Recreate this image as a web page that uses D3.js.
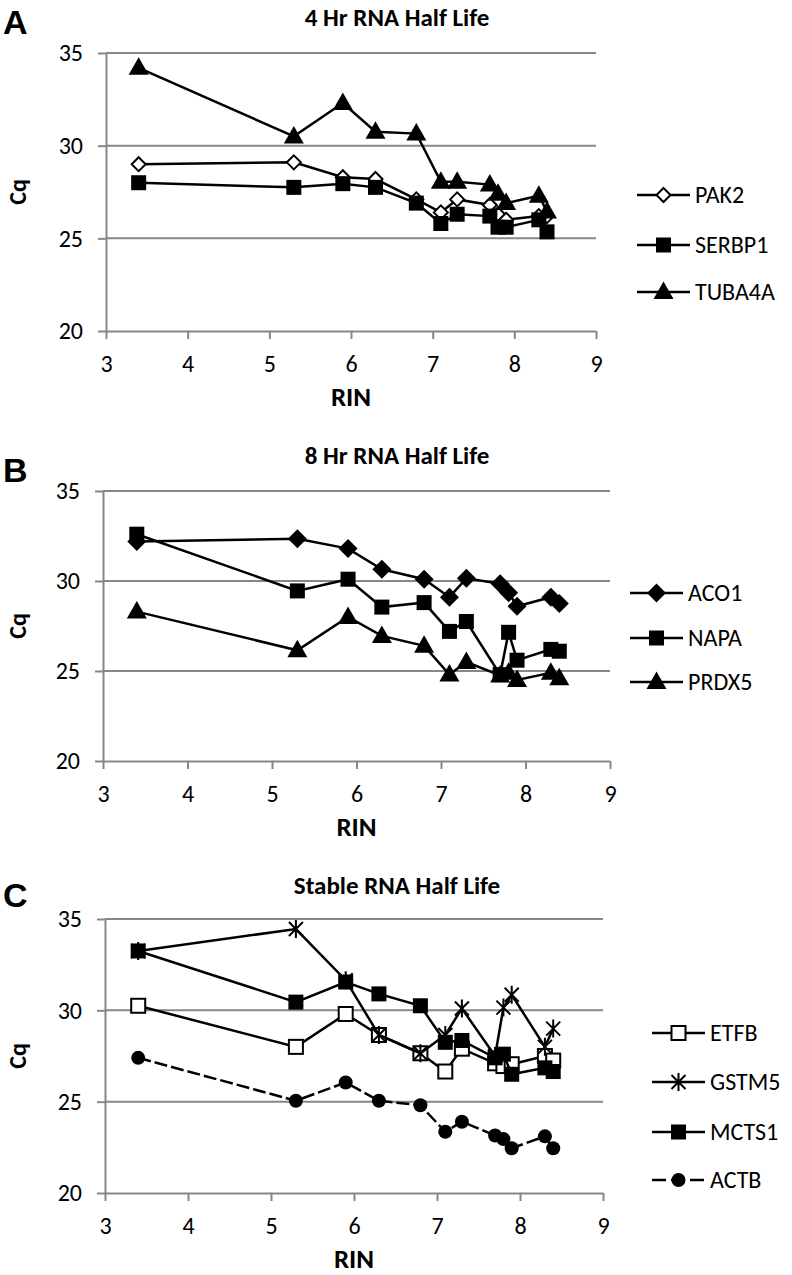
<!DOCTYPE html>
<html><head><meta charset="utf-8">
<script src="https://cdn.jsdelivr.net/npm/d3@7"></script>
<style>
body{margin:0;background:#fff;}
svg text{font-family:Carlito,Lato,"Open Sans",sans-serif;fill:#000;}
</style></head>
<body><svg id="c" width="792" height="1275"></svg>
<script>
const rin = [3.4, 5.3, 5.9, 6.3, 6.8, 7.1, 7.3, 7.7, 7.8, 7.9, 8.3, 8.4];
const xTicks = [3, 4, 5, 6, 7, 8, 9];
const yTicks = [20, 25, 30, 35];

// Panel A: 4 Hr RNA Half Life
const PAK2   = [29.0, 29.1, 28.3, 28.2, 27.1, 26.4, 27.1, 26.8, 26.3, 26.0, 26.2, 26.2];
const SERBP1 = [28.0, 27.75, 27.95, 27.75, 26.9, 25.8, 26.3, 26.2, 25.6, 25.6, 26.0, 25.35];
const TUBA4A = [34.2, 30.5, 32.3, 30.75, 30.65, 28.05, 28.05, 27.9, 27.4, 26.9, 27.3, 26.45];
// Panel B: 8 Hr RNA Half Life
const ACO1  = [32.2, 32.35, 31.8, 30.65, 30.1, 29.1, 30.15, 29.85, 29.35, 28.6, 29.1, 28.75];
const NAPA  = [32.6, 29.45, 30.1, 28.55, 28.8, 27.2, 27.75, 24.8, 27.15, 25.6, 26.2, 26.1];
const PRDX5 = [28.3, 26.15, 28.0, 26.95, 26.4, 24.8, 25.5, 24.75, 24.9, 24.5, 24.9, 24.6];
// Panel C: Stable RNA Half Life
const ETFB  = [30.25, 28.0, 29.8, 28.65, 27.65, 26.65, 27.9, 27.1, 26.95, 27.05, 27.5, 27.25];
const GSTM5 = [33.25, 34.45, 31.65, 28.65, 27.65, 28.65, 30.1, 27.5, 30.15, 30.85, 28.0, 29.0];
const MCTS1 = [33.25, 30.45, 31.55, 30.9, 30.25, 28.25, 28.35, 27.4, 27.6, 26.5, 26.85, 26.65];
const ACTB  = [27.4, 25.05, 26.05, 25.05, 24.8, 23.35, 23.9, 23.15, 22.95, 22.45, 23.1, 22.45];

const panels = [
  {letter:"A", title:"4 Hr RNA Half Life", x0:106, x1:596, yTop:53, yBot:331,
   letterY:34, titleY:26, legX:637, legY:[195,245,292],
   series:[{name:"PAK2", v:PAK2, m:"diamondOpen"},{name:"SERBP1", v:SERBP1, m:"square"},{name:"TUBA4A", v:TUBA4A, m:"triangle"}]},
  {letter:"B", title:"8 Hr RNA Half Life", x0:103, x1:610, yTop:491, yBot:761,
   letterY:482, titleY:464, legX:630, legY:[593,638,682],
   series:[{name:"ACO1", v:ACO1, m:"diamond"},{name:"NAPA", v:NAPA, m:"square"},{name:"PRDX5", v:PRDX5, m:"triangle"}]},
  {letter:"C", title:"Stable RNA Half Life", x0:105, x1:603, yTop:919, yBot:1193,
   letterY:907, titleY:894, legX:652, legY:[1033,1082,1132,1180],
   series:[{name:"ETFB", v:ETFB, m:"squareOpen"},{name:"GSTM5", v:GSTM5, m:"asterisk"},{name:"MCTS1", v:MCTS1, m:"square"},{name:"ACTB", v:ACTB, m:"circle", dash:"13,4"}]}
];

const svg = d3.select("#c");
const GRID = "#878787";

function marker(g, type, cx, cy) {
  const s = g.append("g").attr("transform", `translate(${cx},${cy})`);
  if (type === "square") s.append("rect").attr("x",-7.5).attr("y",-7.5).attr("width",15).attr("height",15).attr("fill","#000");
  else if (type === "squareOpen") s.append("rect").attr("x",-7).attr("y",-7).attr("width",14).attr("height",14).attr("fill","#fff").attr("stroke","#000").attr("stroke-width",2);
  else if (type === "triangle") s.append("path").attr("d","M0,-10.5L10,7L-10,7Z").attr("fill","#000");
  else if (type === "diamond") s.append("path").attr("d","M0,-9.5L9.5,0L0,9.5L-9.5,0Z").attr("fill","#000");
  else if (type === "diamondOpen") s.append("path").attr("d","M0,-7L7,0L0,7L-7,0Z").attr("fill","#fff").attr("stroke","#000").attr("stroke-width",2);
  else if (type === "circle") s.append("circle").attr("r",7).attr("fill","#000");
  else if (type === "asterisk") s.append("path").attr("d","M-7,-7L7,7M-7,7L7,-7M0,-9L0,9").attr("stroke","#000").attr("stroke-width",2).attr("fill","none");
}

panels.forEach(p => {
  const x = d3.scaleLinear().domain([3, 9]).range([p.x0, p.x1]);
  const y = d3.scaleLinear().domain([20, 35]).range([p.yBot, p.yTop]);
  const g = svg.append("g");

  g.append("text").attr("x", 3).attr("y", p.letterY).text(p.letter)
    .style("font-family","'Liberation Sans',Arial,sans-serif").style("font-weight","bold").style("font-size","34px");
  g.append("text").attr("x", 397).attr("y", p.titleY).attr("text-anchor","middle").text(p.title)
    .style("font-weight","bold").style("font-size","25px");

  // gridlines
  g.selectAll("line.grid").data(yTicks.filter(t => t > 20)).enter().append("line")
    .attr("x1", p.x0).attr("x2", p.x1).attr("y1", d => y(d)).attr("y2", d => y(d))
    .attr("stroke", GRID).attr("stroke-width", 2);

  const ay = g.append("g").attr("transform", `translate(${p.x0},0)`)
    .call(d3.axisLeft(y).tickValues(yTicks).tickFormat(d3.format("d")).tickSize(8).tickPadding(15).tickSizeOuter(0));
  const ax = g.append("g").attr("transform", `translate(0,${p.yBot})`)
    .call(d3.axisBottom(x).tickValues(xTicks).tickFormat(d3.format("d")).tickSize(8).tickPadding(16).tickSizeOuter(0));
  [ay, ax].forEach(a => {
    a.select(".domain").attr("stroke", GRID).attr("stroke-width", 2);
    a.selectAll(".tick line").attr("stroke", GRID).attr("stroke-width", 2);
    a.selectAll(".tick text").style("font-size","24px").style("font-family","Carlito,Lato,sans-serif").attr("fill","#000");
  });

  g.append("text").attr("transform", `translate(26,${(p.yTop+p.yBot)/2}) rotate(-90)`)
    .attr("text-anchor","middle").text("Cq").style("font-weight","bold").style("font-size","24px");
  g.append("text").attr("x", (p.x0+p.x1)/2).attr("y", p.yBot + 75).attr("text-anchor","middle")
    .text("RIN").style("font-weight","bold").style("font-size","27px");

  const line = d3.line().x((d,i) => x(rin[i])).y(d => y(d));
  p.series.forEach(s => {
    g.append("path").attr("d", line(s.v)).attr("fill","none").attr("stroke","#000")
      .attr("stroke-width", 2.5).attr("stroke-dasharray", s.dash || null);
    s.v.forEach((v,i) => marker(g, s.m, x(rin[i]), y(v)));
  });

  // legend
  p.series.forEach((s, i) => {
    const ly = p.legY[i];
    g.append("line").attr("x1", p.legX).attr("x2", p.legX + 53).attr("y1", ly).attr("y2", ly)
      .attr("stroke","#000").attr("stroke-width",2.5).attr("stroke-dasharray", s.dash ? "14,5" : null);
    marker(g, s.m, p.legX + 26.5, ly);
    g.append("text").attr("x", p.legX + 58).attr("y", ly).attr("dy","0.35em").text(s.name).style("font-size","24px");
  });
});
</script></body></html>
